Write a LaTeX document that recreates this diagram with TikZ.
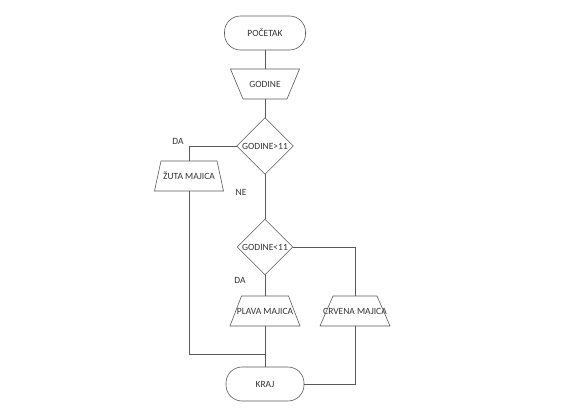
\documentclass[tikz,border=0pt]{standalone}
\usepackage{fontspec}
\setmainfont{Carlito}
\usetikzlibrary{calc}
\tikzset{
  ln/.style={draw=black!65, line width=0.6pt},
  txt/.style={inner sep=0pt, font=\fontsize{9.5}{10}\selectfont, text=black!80},
  term/.style={ln, txt, rounded corners=16pt, minimum height=34pt},
  lbl/.style={inner sep=0pt, font=\fontsize{9.5}{10}\selectfont, text=black!80}
}
\newcommand\trapz[6]{%
  \node[txt, minimum height=#5] (#1) at #2 {#6};
  \draw[ln] ($(#1.center)+(-#3/2,#5/2)$) -- ($(#1.center)+(#3/2,#5/2)$) --
    ($(#1.center)+(#4/2,-#5/2)$) -- ($(#1.center)+(-#4/2,-#5/2)$) -- cycle;}
\newcommand\diam[4]{%
  \node[txt, minimum width=#3, minimum height=#3] (#1) at #2 {#4};
  \draw[ln] (#1.north) -- (#1.east) -- (#1.south) -- (#1.west) -- cycle;}
\begin{document}
\begin{tikzpicture}[x=1pt,y=1pt]
\useasboundingbox (0,0) rectangle (563,-420);
\node[term, minimum width=81pt] (start) at (265,-33) {POČETAK};
\trapz{godine}{(265,-84)}{69}{44}{30}{GODINE}
\diam{d1}{(265,-146)}{56}{GODINE>11}
\trapz{zuta}{(189,-176)}{56}{69}{30}{ŽUTA MAJICA}
\diam{d2}{(265,-247)}{55}{GODINE<11}
\trapz{plava}{(265,-311)}{47}{70}{30}{PLAVA MAJICA}
\trapz{crvena}{(355,-311)}{44}{70}{30}{CRVENA MAJICA}
\node[term, minimum width=78pt] (kraj) at (265,-384) {KRAJ};
\coordinate (j) at (265,-354);
\node[lbl] (da1) at (178,-141) {DA};
\node[lbl] (ne) at (241,-192) {NE};
\node[lbl] (da2) at (240,-280) {DA};
\draw[ln] (start.south) -- (godine.north);
\draw[ln] (godine.south) -- (d1.north);
\draw[ln] (d1.west) -| (zuta.north);
\draw[ln] (d1.south) -- (d2.north);
\draw[ln] (d2.east) -| (crvena.north);
\draw[ln] (d2.south) -- (plava.north);
\draw[ln] (plava.south) -- (kraj.north);
\draw[ln] (zuta.south) |- (j);
\draw[ln] (crvena.south) |- (kraj.east);
\end{tikzpicture}
\end{document}
